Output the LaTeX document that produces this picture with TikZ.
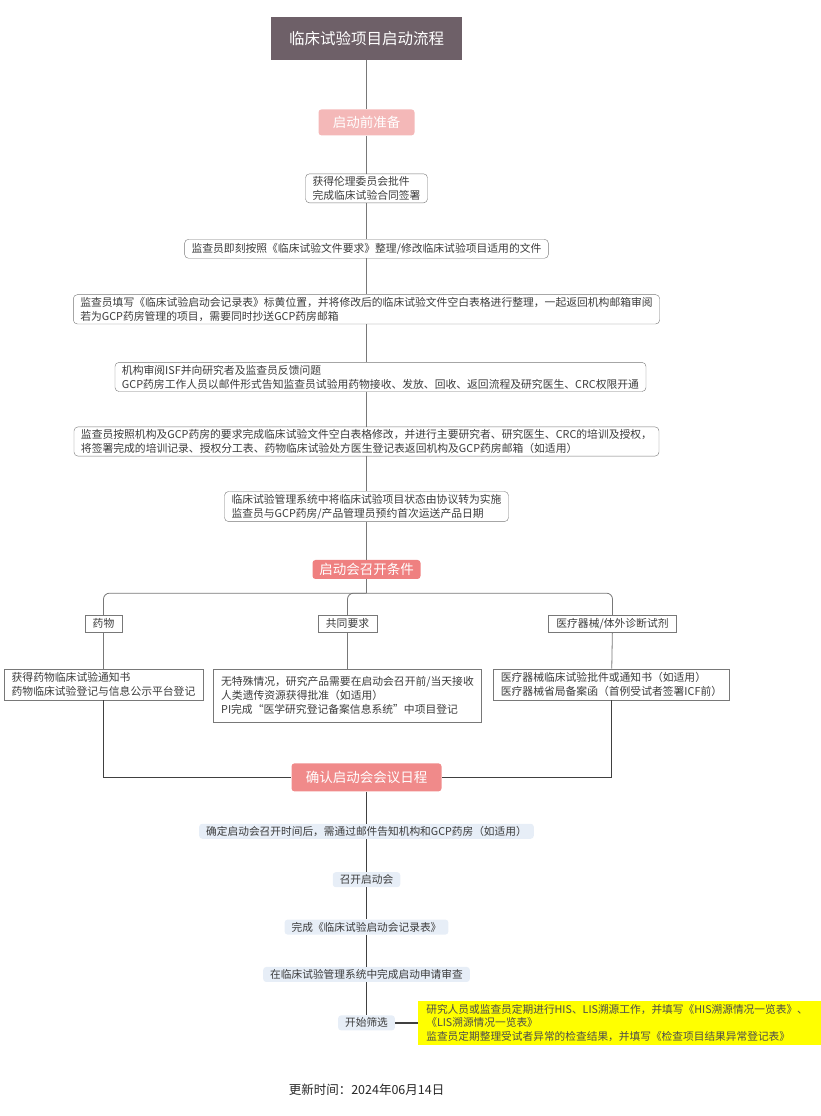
\documentclass[tikz,border=0pt]{standalone}
\usepackage{fontspec}
\newfontfamily\cjk{Noto Sans CJK SC}
\usepackage{xcolor}
\usetikzlibrary{positioning}
\definecolor{titlegray}{RGB}{110,96,104}
\definecolor{prepred}{RGB}{244,184,184}
\definecolor{condred}{RGB}{239,128,128}
\definecolor{confirmred}{RGB}{240,138,138}
\definecolor{pillblue}{RGB}{231,238,247}
\definecolor{linegray}{RGB}{120,120,120}
\definecolor{textgray}{RGB}{60,60,60}
\definecolor{noteyellow}{RGB}{255,255,0}
\tikzstyle{heading} = [fill=titlegray, text=white, font=\cjk\fontsize{15.5}{18}\selectfont, minimum width=191pt, minimum height=43pt]
\tikzstyle{stage} = [rounded corners=3pt, text=white, font=\cjk\fontsize{13.5}{16}\selectfont, inner sep=0pt]
\tikzstyle{task} = [draw=linegray, rounded corners=4pt, fill=white, text=textgray, align=left, font=\cjk\fontsize{10.8}{14}\selectfont, inner xsep=7pt, inner ysep=2.5pt, minimum height=19pt]
\tikzstyle{cat} = [draw=linegray, fill=white, text=textgray, font=\cjk\fontsize{10.8}{14}\selectfont, inner xsep=8pt, inner ysep=1pt, minimum height=17pt]
\tikzstyle{leaf} = [draw=linegray, fill=white, text=textgray, align=left, font=\cjk\fontsize{10.8}{14}\selectfont, inner xsep=7.5pt, inner ysep=3.5pt]
\tikzstyle{pill} = [fill=pillblue, rounded corners=3pt, text=textgray, font=\cjk\fontsize{10.7}{13}\selectfont, inner xsep=7pt, inner ysep=1pt, minimum height=15pt]
\tikzstyle{note} = [fill=noteyellow, text=black!70, align=left, font=\cjk\fontsize{10.7}{13.5}\selectfont, text width=387pt, inner xsep=8pt, minimum height=40pt]
\tikzstyle{link} = [draw=linegray, line width=0.8pt]
\tikzstyle{flow} = [draw=black!75, line width=1.3pt]

\begin{document}
\begin{tikzpicture}[x=1pt, y=-1pt]
\useasboundingbox (0,0) rectangle (820,1116);

% preparation =============================
\node[heading] (title) at (366.5,38.5) {临床试验项目启动流程};
\node[stage, fill=prepred, minimum width=96pt, minimum height=26pt, below=49pt of title] (prep) {启动前准备};
\node[task, below=38pt of prep] (b1) {获得伦理委员会批件\\完成临床试验合同签署};
\node[task, below=36pt of b1] (b2) {监查员即刻按照《临床试验文件要求》整理/修改临床试验项目适用的文件};
\node[task, below=36pt of b2] (b3) {监查员填写《临床试验启动会记录表》标黄位置，并将修改后的临床试验文件空白表格进行整理，一起返回机构邮箱审阅\\若为GCP药房管理的项目，需要同时抄送GCP药房邮箱};
\node[task, below=38pt of b3, xshift=14pt] (b4) {机构审阅ISF并向研究者及监查员反馈问题\\GCP药房工作人员以邮件形式告知监查员试验用药物接收、发放、回收、返回流程及研究医生、CRC权限开通};
\node[task, below=35pt of b4.south -| b3] (b5) {监查员按照机构及GCP药房的要求完成临床试验文件空白表格修改，并进行主要研究者、研究医生、CRC的培训及授权，\\将签署完成的培训记录、授权分工表、药物临床试验处方医生登记表返回机构及GCP药房邮箱（如适用）};
\node[task, below=35pt of b5] (b6) {临床试验管理系统中将临床试验项目状态由协议转为实施\\监查员与GCP药房/产品管理员预约首次运送产品日期};

% conditions =============================
\node[stage, fill=condred, minimum width=108pt, minimum height=19pt, below=38pt of b6] (cond) {启动会召开条件};
\coordinate[below=14pt of cond] (split);
\node[cat, below=36pt of cond, xshift=-263pt] (drug) {药物};
\node[cat, below=36pt of cond, xshift=-19pt] (common) {共同要求};
\node[cat, below=36pt of cond, xshift=246pt] (device) {医疗器械/体外诊断试剂};
\node[leaf, below=36pt of drug] (drugleaf) {获得药物临床试验通知书\\药物临床试验登记与信息公示平台登记};
\node[leaf, below=36pt of common, minimum height=53pt] (commonleaf) {无特殊情况，研究产品需要在启动会召开前/当天接收\\人类遗传资源获得批准（如适用）\\PI完成“医学研究登记备案信息系统”中项目登记};
\node[leaf, below=36pt of device, xshift=-1pt] (deviceleaf) {医疗器械临床试验批件或通知书（如适用）\\医疗器械省局备案函（首例受试者签署ICF前）};

% meeting =============================
\node[stage, fill=confirmred, minimum width=150pt, minimum height=28pt, below=184pt of cond] (confirm) {确认启动会会议日程};
\node[pill, below=32pt of confirm] (s1) {确定启动会召开时间后，需通过邮件告知机构和GCP药房（如适用）};
\node[pill, below=33pt of s1] (s2) {召开启动会};
\node[pill, below=32pt of s2] (s3) {完成《临床试验启动会记录表》};
\node[pill, below=32pt of s3] (s4) {在临床试验管理系统中完成启动申请审查};
\node[pill, below=33pt of s4] (s5) {开始筛选};
\node[note, right=23pt of s5] (screennote) {研究人员或监查员定期进行HIS、LIS溯源工作，并填写《HIS溯源情况一览表》、\\《LIS溯源情况一览表》\\监查员定期整理受试者异常的检查结果，并填写《检查项目结果异常登记表》};
\node[text=black!85, font=\cjk\fontsize{12.5}{15}\selectfont, below=50pt of s5] (updated) {更新时间：2024年06月14日};

% edges
\path[link] (title) -- (prep) -- (b1) -- (b2) -- (b3);
\path[link] (b3) -- (b3 |- b4.north);
\path[link] (b5 |- b4.south) -- (b5);
\path[link] (b5) -- (b6) -- (cond) -- (split);
\path[link, rounded corners=6pt] (split) -| (drug);
\path[link, rounded corners=6pt] (split) -| (common);
\path[link, rounded corners=6pt] (split) -| (device);
\path[link] (drug) -- (drugleaf);
\path[link] (common) -- (commonleaf);
\path[link] (device) -- (deviceleaf);
\path[flow] (drugleaf) |- (confirm);
\path[flow] (deviceleaf) |- (confirm);
\path[flow] (confirm) -- (s1) -- (s2) -- (s3) -- (s4) -- (s5);
\path[flow] (s5) -- (screennote);

\end{tikzpicture}
\end{document}
